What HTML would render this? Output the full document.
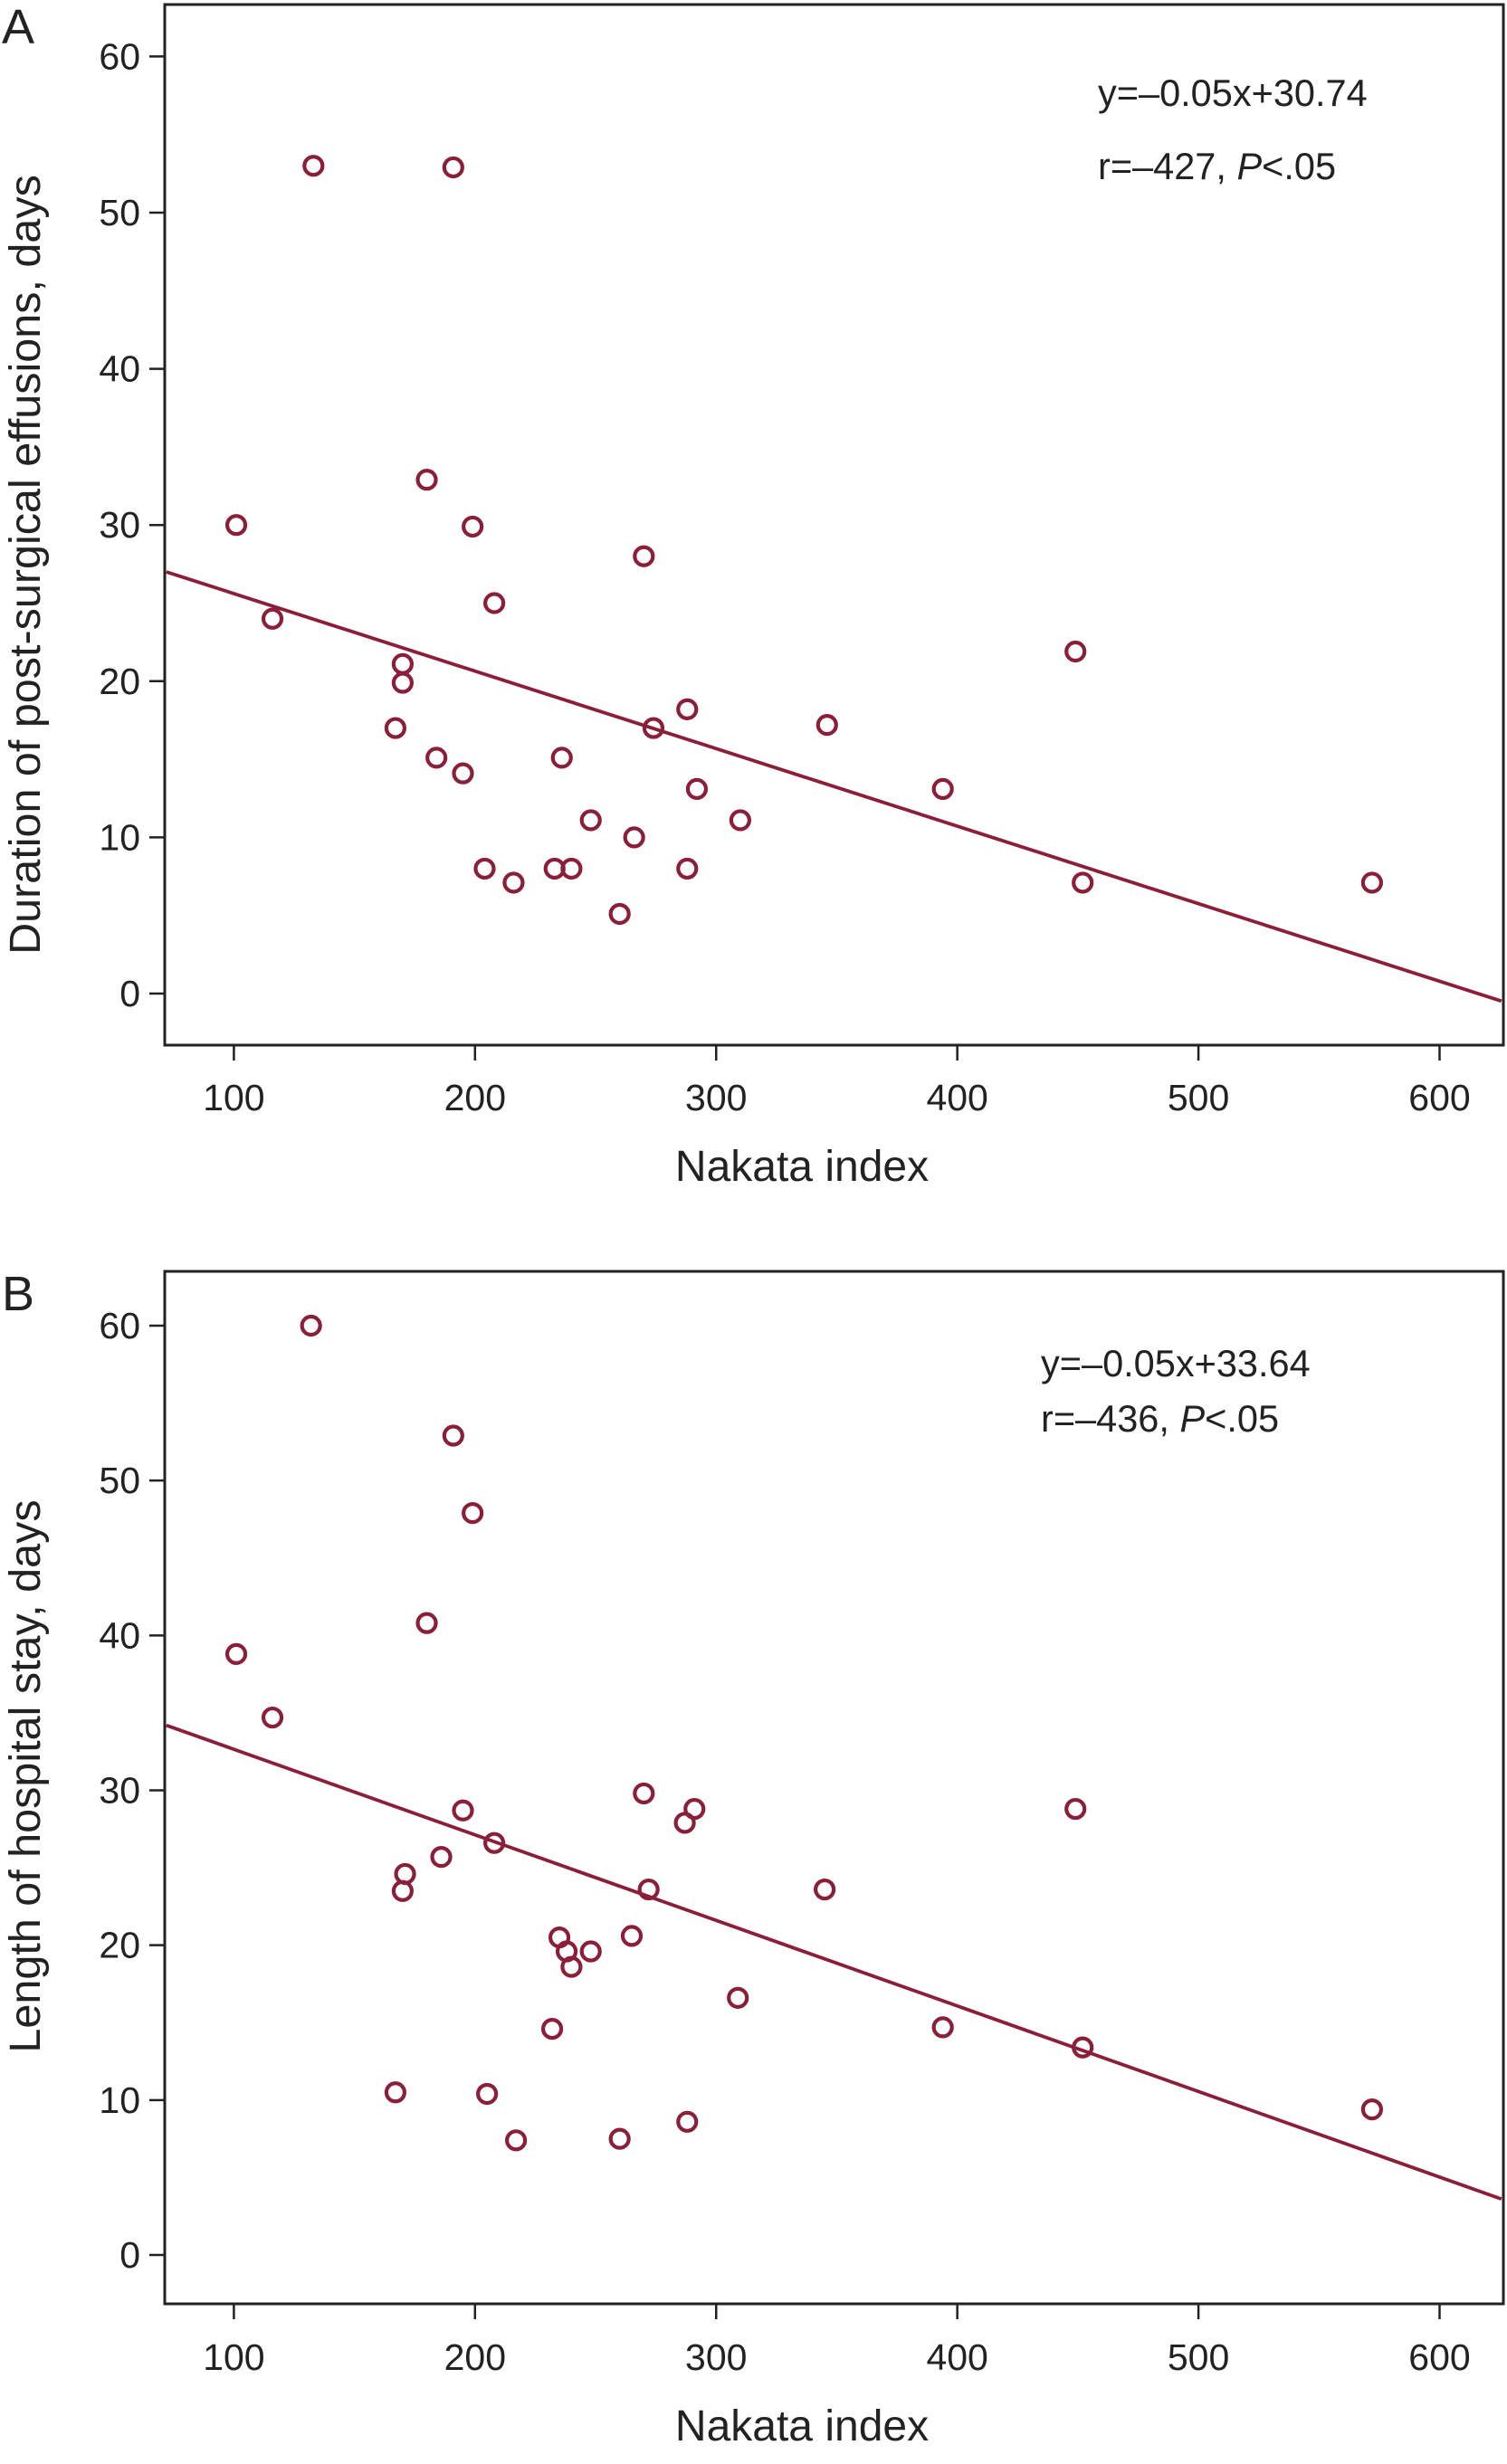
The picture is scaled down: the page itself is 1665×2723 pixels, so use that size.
<!DOCTYPE html>
<html><head><meta charset="utf-8">
<style>
html,body{margin:0;padding:0;background:#fff;}
svg{display:block;font-family:"Liberation Sans",sans-serif;}
</style></head>
<body>
<svg id="chart" width="1665" height="2723" viewBox="0 0 1665 2723" xmlns="http://www.w3.org/2000/svg"></svg>
<script>
// ---- data ----
const xTicks = [100, 200, 300, 400, 500, 600];
const yTicks = [0, 10, 20, 30, 40, 50, 60];
const aX = [101,116,133,191,180,199,208,170,170,167,184,195,204,216,236,233,240,248,260,266,270,274,288,288,292,310,346,394,449,452,572];
const aY = [30,24,53,52.9,32.9,29.9,25,21.1,19.9,17,15.1,14.1,8,7.1,15.1,8,8,11.1,5.1,10,28,17,18.2,8,13.1,11.1,17.2,13.1,21.9,7.1,7.1];
const bX = [101,116,132,191,180,199,195,208,186,171,170,167,205,217,232,235,238,240,248,260,265,270,272,287,291,288,309,345,394,449,452,572];
const bY = [38.8,34.7,60,52.9,40.8,47.9,28.7,26.6,25.7,24.6,23.5,10.5,10.4,7.4,14.6,20.5,19.6,18.6,19.6,7.5,20.6,29.8,23.6,27.9,28.8,8.6,16.6,23.6,14.7,28.8,13.4,9.4];
const aFit = [-0.0496, 30.57];
const bFit = [-0.0552, 38.17];
const xDomain = [72, 626];

const NS = "http://www.w3.org/2000/svg";
const svg = document.getElementById("chart");
const COL = "#8b1f3a";
function mk(tag, attrs, parent){
  const e = document.createElementNS(NS, tag);
  for (const k in attrs) e.setAttribute(k, attrs[k]);
  (parent||svg).appendChild(e);
  return e;
}

function panel(cfg){
  const g = mk("g", {});
  
  
  const L=182, R=1661, T=cfg.top, B=cfg.bottom;
  const sx = v => 258.4 + (v-100)*(1590.5-258.4)/500;
  const sy = v => cfg.y0 + (cfg.y60-cfg.y0)*v/60;

  const frame = mk("rect", {x:L, y:T, width:R-L, height:B-T, fill:"none", stroke:"#222", "stroke-width":3}, g);
  
  

  const lbl = mk("text", {x:2, y:cfg.letterY, "font-size":54, fill:"#222"}, g);
  lbl.textContent = cfg.letter;
  
  

  yTicks.forEach(v=>{
    const y = sy(v);
    const t = mk("line", {x1:165, x2:L, y1:y, y2:y, stroke:"#222", "stroke-width":2.5}, g);
    
    
    const tx = mk("text", {x:155, y:y+14, "font-size":41, "text-anchor":"end", fill:"#222"}, g);
    tx.textContent = v;
    
    
  });
  xTicks.forEach(v=>{
    const x = sx(v);
    const t = mk("line", {x1:x, x2:x, y1:B, y2:B+17, stroke:"#222", "stroke-width":2.5}, g);
    
    
    const tx = mk("text", {x:x, y:cfg.xLblY, "font-size":41, "text-anchor":"middle", fill:"#222"}, g);
    tx.textContent = v;
    
    
  });
  const xt = mk("text", {x:886, y:cfg.xTitleY, "font-size":48, "text-anchor":"middle", fill:"#222"}, g);
  xt.textContent = "Nakata index";
  
  
  const yt = mk("text", {x:0, y:0, "font-size":48.5, "text-anchor":"middle", fill:"#222", transform:`translate(44,${cfg.yTitleC}) rotate(-90)`}, g);
  yt.textContent = cfg.yTitle;
  
  

  const x1 = xDomain[0], x2 = xDomain[1];
  const ln = mk("line", {x1:sx(x1), y1:sy(cfg.fit[0]*x1+cfg.fit[1]), x2:sx(x2)-1, y2:sy(cfg.fit[0]*x2+cfg.fit[1]), stroke:COL, "stroke-width":3.8}, g);
  
  

  cfg.xs.forEach((v,i)=>{
    const c = mk("circle", {cx:sx(v), cy:sy(cfg.ys[i]), r:10, fill:"none", stroke:COL, "stroke-width":4.2}, g);
    
    
  });

  cfg.ann.forEach((s,i)=>{
    const a = mk("text", {x:cfg.annX, y:cfg.annY[i], "font-size":41.5, fill:"#222"}, g);
    a.innerHTML = s;
    
    
  });
}

panel({name:"panel-a", letter:"A", letterY:48, top:5, bottom:1155, y0:1098, y60:62.4,
  xLblY:1227, xTitleY:1305, yTitleC:624, yTitle:"Duration of post-surgical effusions, days",
  xs:aX, ys:aY, fit:aFit, annX:1213, annY:[117,198],
  ann:["y=\u20130.05x+30.74", "r=\u2013427,  <tspan font-style=\"italic\">P</tspan>&lt;.05"]});

panel({name:"panel-b", letter:"B", letterY:1448, top:1405, bottom:2546, y0:2492, y60:1465,
  xLblY:2619, xTitleY:2697, yTitleC:1963, yTitle:"Length of hospital stay, days",
  xs:bX, ys:bY, fit:bFit, annX:1150, annY:[1521,1582],
  ann:["y=\u20130.05x+33.64", "r=\u2013436,  <tspan font-style=\"italic\">P</tspan>&lt;.05"]});
</script>
</body></html>
